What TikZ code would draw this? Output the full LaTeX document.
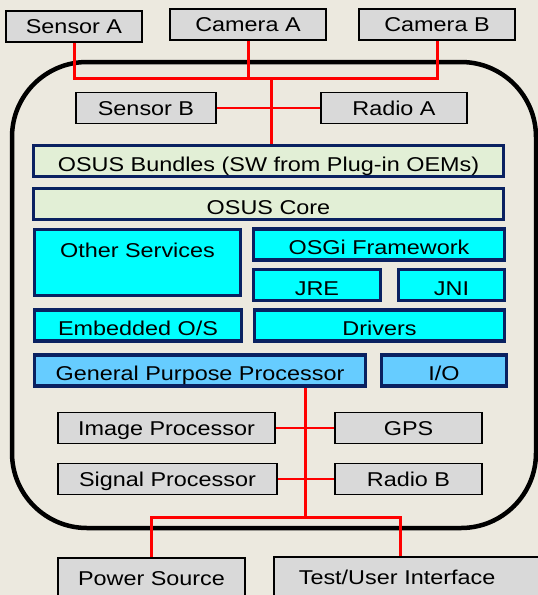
\documentclass[tikz,border=0pt]{standalone}
\usepackage{fontspec}
\usepackage{tikz}
\usepackage{xcolor}
\usetikzlibrary{arrows.meta,positioning,calc}
\newfontfamily\boxfont[FakeStretch=1.17]{Liberation Sans}
\definecolor{paper}{HTML}{ECE9DF}
\definecolor{boxgray}{HTML}{D9D9D9}
\definecolor{navy}{HTML}{0A2161}
\definecolor{softgreen}{HTML}{E2EFD6}
\definecolor{brightcyan}{HTML}{00FFFF}
\definecolor{skyblue}{HTML}{66CCFF}
\definecolor{busred}{HTML}{FF0000}

\begin{document}
\begin{tikzpicture}[x=1pt,y=-1pt,
    txt/.style={font=\boxfont\fontsize{20}{24}\selectfont,inner sep=2pt},
    hwbox/.style={txt,draw=black,line width=1.6pt,fill=boxgray,
      minimum height=31,text height=15.3,text depth=1},
    swbox/.style={txt,draw=navy,line width=3.5pt,minimum height=31,
      text height=21,text depth=0.7},
    bus/.style={busred,line width=3pt},
    tap/.style={busred,line width=1.7pt}]
      % page
      \useasboundingbox (0,0) rectangle (538,595);
      \fill[paper] (0,0) rectangle (538,595);
      % device outline
      \draw[black,line width=4.5pt,rounded corners=75] (12,62) rectangle (536,528);
      % outside devices (top)
      \node[hwbox,minimum width=136] (sensA) at (74,26.5) {Sensor A};
      \node[hwbox,minimum width=156] (camA) at (248,24.5) {Camera A};
      \node[hwbox,minimum width=156] (camB) at (437,24.5) {Camera B};
      % on-board peripherals (top)
      \node[hwbox,minimum width=140] (senB) at (146,108) {Sensor B};
      \node[hwbox,minimum width=146] (radA) at (394,108) {Radio A};
      % software stack
      \node[swbox,fill=softgreen,minimum width=470] (bundles) at (268.5,161)
        {OSUS Bundles (SW from Plug-in OEMs)};
      \node[swbox,fill=softgreen,minimum width=470] (core) at (268.5,204) {OSUS Core};
      \node[swbox,fill=brightcyan,minimum width=206,minimum height=66,
        text height=15,text depth=26] (other) at (137.5,262.5) {Other Services};
      \node[swbox,fill=brightcyan,minimum width=251] (osgi) at (379,244.5) {OSGi Framework};
      \node[swbox,fill=brightcyan,minimum width=127] (jre) at (317,285) {JRE};
      \node[swbox,fill=brightcyan,minimum width=106] (jni) at (451.5,285) {JNI};
      \node[swbox,fill=brightcyan,minimum width=207] (embos) at (138,325.5) {Embedded O/S};
      \node[swbox,fill=brightcyan,minimum width=250] (drivers) at (379.5,325.5) {Drivers};
      % processor layer
      \node[swbox,fill=skyblue,minimum width=331] (gpp) at (200,370.5) {General Purpose Processor};
      \node[swbox,fill=skyblue,minimum width=125] (io) at (444,370.5) {I/O};
      % on-board peripherals (bottom)
      \node[hwbox,minimum width=217] (imgP) at (166.5,428) {Image Processor};
      \node[hwbox,minimum width=147] (gps) at (408.5,428) {GPS};
      \node[hwbox,minimum width=219] (sigP) at (167.5,479) {Signal Processor};
      \node[hwbox,minimum width=147] (radB) at (408.5,479) {Radio B};
      % outside devices (bottom)
      \node[hwbox,minimum width=187,minimum height=40] (power) at (151.5,578) {Power Source};
      \node[hwbox,anchor=west,minimum height=40,text width=240,align=left,inner xsep=25]
        (testUI) at (273,577) {Test/User Interface};
      % top bus
      \coordinate (topBus) at (271,78);
      \draw[bus] (sensA.south) |- (topBus) -| (camB.south);
      \draw[bus] (camA.south) -- (camA.south |- topBus);
      \draw[bus] (topBus) -- (topBus |- bundles.north);
      \draw[tap] (senB.east) -- (radA.west);
      % bottom bus
      \coordinate (botBus) at (305,517);
      \draw[bus] (gpp.south -| botBus) -- (botBus);
      \draw[bus] (power.north) |- (botBus) -| ([xshift=-18pt]testUI.north);
      \draw[tap] (imgP.east) -- (gps.west);
      \draw[tap] (sigP.east) -- (radB.west);
    \end{tikzpicture}
\end{document}
